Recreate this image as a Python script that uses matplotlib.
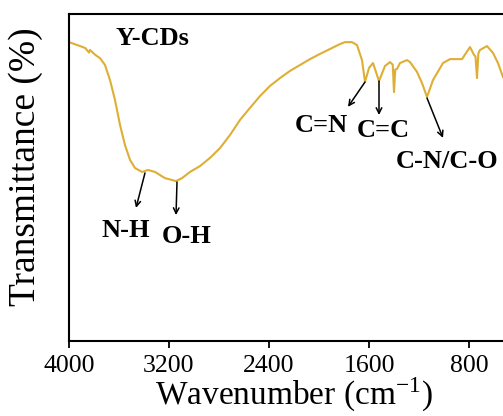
import matplotlib
matplotlib.use('Agg')
import matplotlib.pyplot as plt

plt.rcParams['font.family'] = 'Liberation Serif'
plt.rcParams['mathtext.fontset'] = 'stix'

# FTIR spectrum of Y-CDs
wavenumber = [4000, 3912, 3870, 3840, 3832, 3790, 3752, 3712, 3672, 3632,
              3592, 3552, 3512, 3472, 3416, 3368, 3312, 3232, 3144, 3096,
              3032, 2952, 2872, 2792, 2712, 2632, 2552, 2472, 2392, 2312,
              2232, 2152, 2072, 1992, 1912, 1832, 1792, 1736, 1696, 1656,
              1632, 1600, 1568, 1520, 1472, 1432, 1410, 1400, 1390, 1376,
              1352, 1296, 1272, 1216, 1176, 1136, 1088, 1008, 952, 856,
              792, 760, 748, 736, 725, 712, 656, 608, 568, 528, 472]
transmittance = [91.4, 90.2, 89.6, 88.2, 89.0, 87.5, 86.5, 84.4, 79.8, 73.7,
                 66.1, 59.9, 55.4, 52.9, 51.7, 52.3, 51.7, 49.8, 48.9, 49.8,
                 51.7, 53.5, 56.0, 59.0, 63.0, 67.6, 71.3, 74.9, 78.0, 80.4,
                 82.6, 84.4, 86.2, 87.8, 89.3, 90.8, 91.4, 91.4, 90.5, 85.9,
                 79.2, 83.5, 85.0, 79.5, 84.1, 85.3, 84.5, 76.1, 83.0, 83.2,
                 85.0, 85.9, 85.3, 82.3, 78.9, 74.6, 79.8, 85.0, 86.2, 86.2,
                 89.9, 87.5, 87.0, 80.4, 88.0, 89.0, 90.2, 88.1, 85.0, 80.7, 78.3]

xticks = [4000, 3200, 2400, 1600, 800]

# (label, text x, text y, arrow start, arrow end)
peaks = [
    ('N-H', 3544, 31.8, (3392, 51.4), (3464, 40.7)),
    ('O-H', 3056, 30.0, (3136, 48.6), (3144, 38.5)),
    ('C=N', 1984, 63.9, (1632, 79.2), (1768, 71.6)),
    ('C=C', 1488, 62.4, (1520, 79.5), (1520, 69.1)),
    ('C-N/C-O', 976, 52.9, (1136, 74.3), (1008, 62.1)),
]

fig = plt.figure(figsize=(5.03, 4.16), dpi=100)
ax = fig.add_axes([69 / 503, 75 / 416, 450 / 503, 327 / 416])

ax.plot(wavenumber, transmittance, color='#DFAE35', lw=1.5)

ax.set_xlim(4000, 400)
ax.set_ylim(0, 100)
ax.set_xticks(xticks)
ax.set_yticks([])
ax.tick_params(axis='x', direction='out', length=5, width=1.3, pad=5, labelsize=18.5)

for a in ['top', 'bottom', 'left', 'right']:
    ax.spines[a].set_linewidth(1.5)

ax.set_xlabel('Wavenumber (cm$^{\\mathregular{-1}}$)', fontsize=24, labelpad=-1)
ax.set_ylabel('Transmittance (%)', fontsize=27)
ax.yaxis.set_label_coords(-0.058, 0.532)

ax.text(3632, 90.5, 'Y-CDs', fontsize=19, fontweight='bold', ha='left', va='baseline')

for name, tx, ty, start, end in peaks:
    ax.annotate('', xy=end, xytext=start,
                arrowprops=dict(arrowstyle='->', color='black', lw=1.1,
                                shrinkA=0, shrinkB=0))
    ax.text(tx, ty, name, fontsize=19, fontweight='bold', ha='center', va='baseline')

plt.savefig('out.png', dpi=100)
